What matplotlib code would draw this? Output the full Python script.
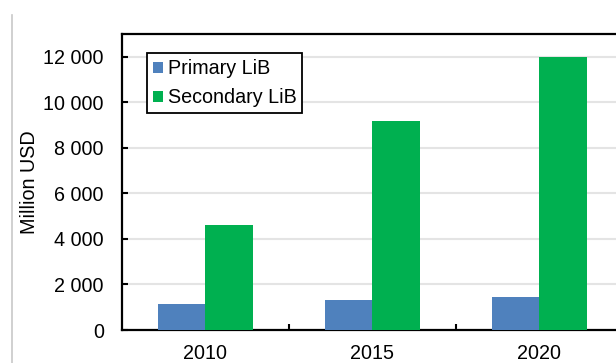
import numpy as np
import matplotlib.pyplot as plt
from matplotlib.lines import Line2D

years = ["2010", "2015", "2020"]
primary = [1130, 1300, 1460]
secondary = [4600, 9180, 12000]
yticks = [0, 2000, 4000, 6000, 8000, 10000, 12000]
ytick_labels = ["0", "2 000", "4 000", "6 000", "8 000", "10 000", "12 000"]

plt.rcParams['font.family'] = ['Liberation Sans', 'DejaVu Sans']
plt.rcParams['font.size'] = 14.2

fig = plt.figure(figsize=(6.16, 3.63), dpi=100)
ax = fig.add_axes([0.198, 0.0909, 0.813, 0.815])

x = np.arange(len(years))
w = 0.283
ax.bar(x - w / 2, primary, w, color="#4F81BD", label="Primary LiB", zorder=3)
ax.bar(x + w / 2, secondary, w, color="#00B050", label="Secondary LiB", zorder=3)

ax.set_xlim(-0.5, len(years) - 0.5)
ax.set_ylim(0, 13000)
ax.set_yticks(yticks)
ax.set_yticklabels(ytick_labels)
ax.set_xticks(x)
ax.set_xticklabels(years)
ax.set_xticks(x[:-1] + 0.5, minor=True)
ax.tick_params(axis='x', which='major', length=0, pad=10)
ax.tick_params(axis='x', which='minor', direction='in', length=4, width=1.5)
ax.tick_params(axis='y', direction='in', length=4, width=1.5, pad=13)
ax.grid(axis='y', color="#E4E4E4", linewidth=1.5, zorder=0)
ax.set_ylabel("Million USD", labelpad=3)

for side in ['left', 'bottom', 'top']:
    ax.spines[side].set_linewidth(1.6)
ax.spines['right'].set_visible(False)

leg = ax.legend(loc='upper left', bbox_to_anchor=(0.05, 0.935), borderaxespad=0,
                fancybox=False, edgecolor='black', framealpha=1,
                handlelength=0.5, handleheight=0.5, handletextpad=0.25,
                labelspacing=0.5, borderpad=0.3)
leg.get_frame().set_linewidth(1.3)

# thin grey rule down the left edge
fig.add_artist(Line2D([0.019, 0.019], [0, 0.96], transform=fig.transFigure,
                      color="#C8C8C8", linewidth=1.2))

fig.savefig("out.png", dpi=100)
